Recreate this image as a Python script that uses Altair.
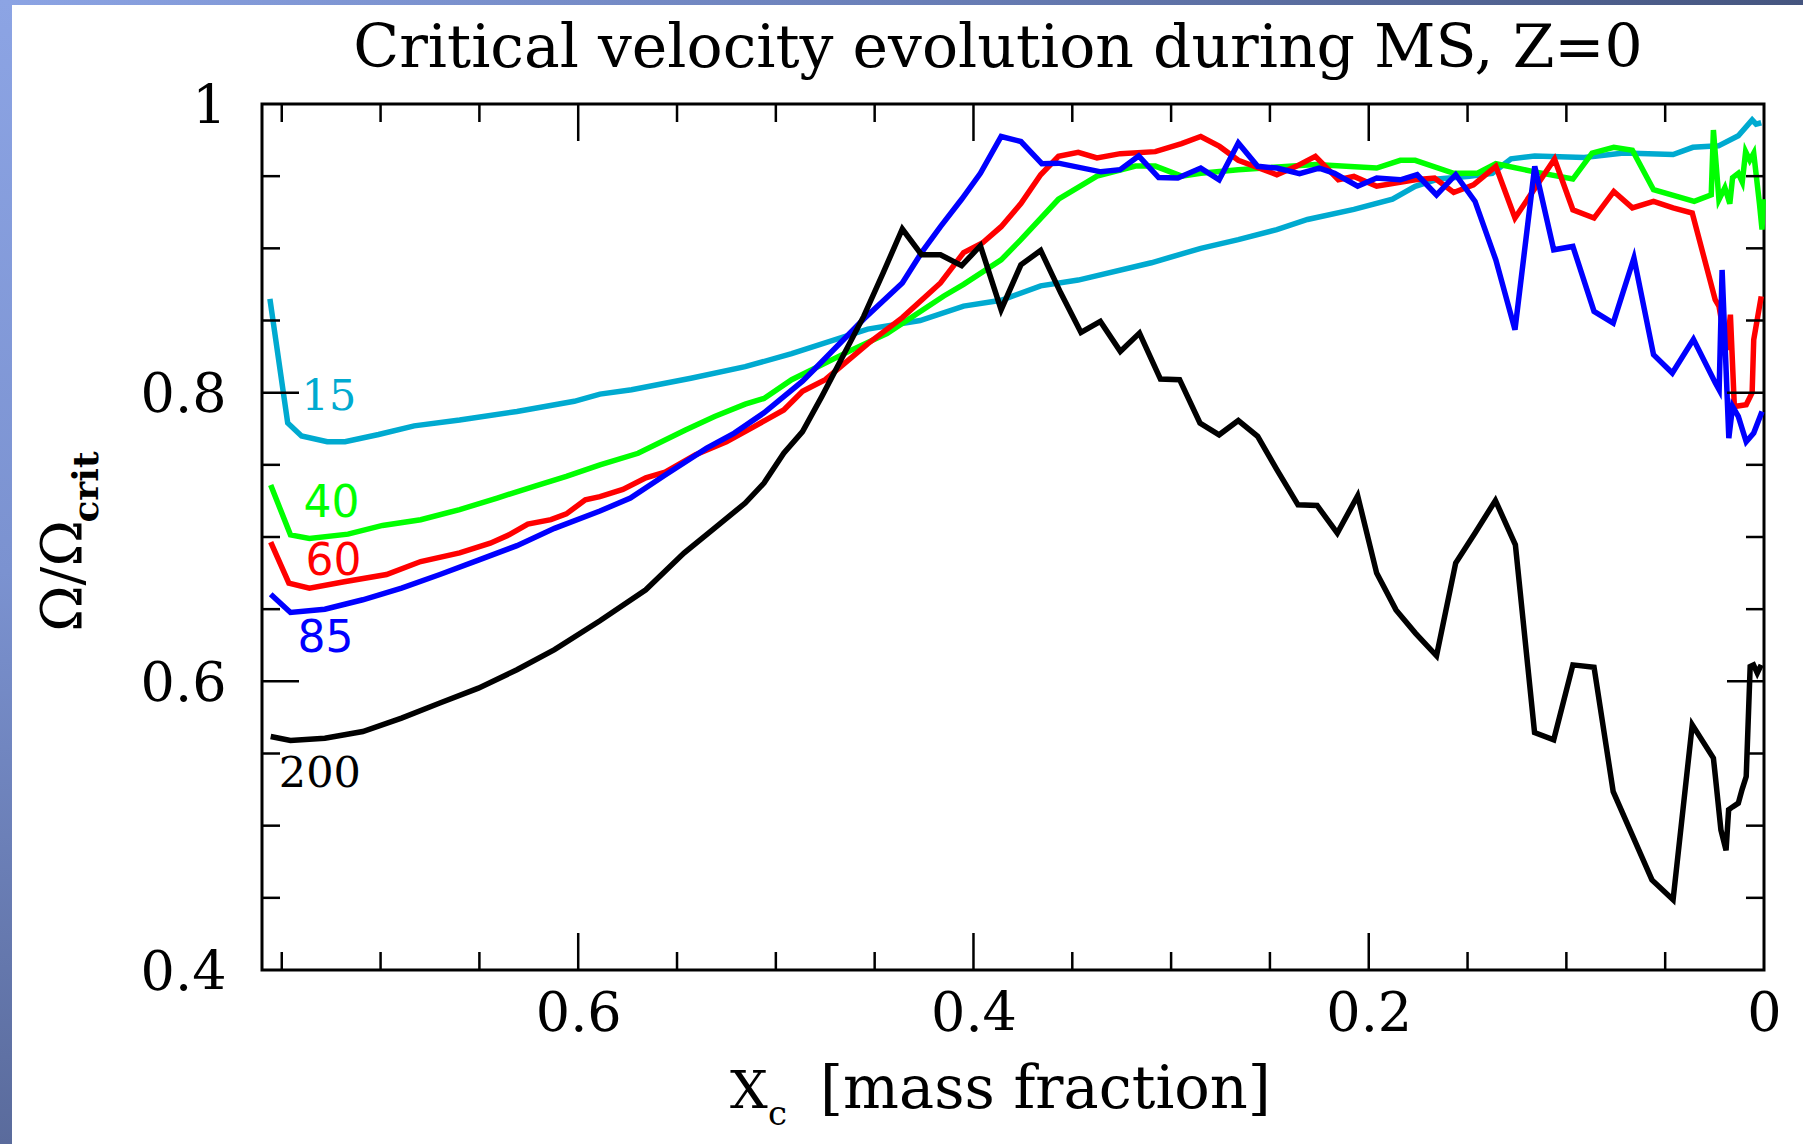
import altair as alt
import pandas as pd

# ---------------- data ----------------
x15 = [0.756, 0.747, 0.740, 0.727, 0.718, 0.701, 0.683, 0.660, 0.631, 0.602, 0.589, 0.573, 0.543, 0.5155,
       0.492, 0.4535, 0.427, 0.405, 0.386, 0.366, 0.347, 0.310, 0.285, 0.266, 0.2465, 0.231, 0.2075, 0.188,
       0.1765, 0.165, 0.149, 0.1375, 0.128, 0.116, 0.091, 0.071, 0.046, 0.036, 0.023, 0.013, 0.006, 0.004, 0.0014]
y15 = [0.865, 0.779, 0.770, 0.766, 0.766, 0.771, 0.777, 0.781, 0.787, 0.794, 0.799, 0.802, 0.810, 0.818,
       0.827, 0.844, 0.850, 0.860, 0.864, 0.874, 0.878, 0.890, 0.900, 0.906, 0.913, 0.920, 0.927, 0.934,
       0.943, 0.948, 0.950, 0.952, 0.962, 0.964, 0.963, 0.966, 0.965, 0.970, 0.971, 0.978, 0.989, 0.986, 0.987]

x40 = [0.7556, 0.7456, 0.736, 0.7165, 0.699, 0.6797, 0.660, 0.641, 0.6215, 0.606, 0.589, 0.5697, 0.546, 0.531,
       0.5155, 0.506, 0.492, 0.461, 0.4438, 0.415, 0.405, 0.386, 0.376, 0.357, 0.3375, 0.318, 0.308, 0.2947,
       0.285, 0.266, 0.227, 0.196, 0.184, 0.1765, 0.157, 0.145, 0.1357, 0.116, 0.0967, 0.087, 0.076, 0.0666,
       0.0559, 0.0353, 0.0267, 0.0256, 0.0228, 0.0198, 0.0173, 0.0159, 0.013, 0.011, 0.0093, 0.0072, 0.0052,
       0.0023, 0.001, 0.0004]
y40 = [0.736, 0.7015, 0.699, 0.702, 0.708, 0.712, 0.719, 0.727, 0.7355, 0.742, 0.750, 0.758, 0.774, 0.7835,
       0.792, 0.796, 0.809, 0.830, 0.841, 0.867, 0.875, 0.892, 0.906, 0.934, 0.950, 0.957, 0.957, 0.950,
       0.952, 0.9545, 0.958, 0.9556, 0.961, 0.961, 0.952, 0.952, 0.9586, 0.953, 0.948, 0.966, 0.970, 0.968,
       0.9406, 0.9325, 0.937, 0.982, 0.9337, 0.942, 0.931, 0.949, 0.952, 0.946, 0.967, 0.961, 0.966,
       0.931, 0.913, 0.934]

x60 = [0.7556, 0.7464, 0.736, 0.7184, 0.697, 0.6797, 0.660, 0.6445, 0.635, 0.6255, 0.6138, 0.606, 0.5964,
       0.589, 0.5774, 0.5658, 0.556, 0.5406, 0.525, 0.5117, 0.496, 0.4865, 0.475, 0.4534, 0.436, 0.4167,
       0.405, 0.3955, 0.386, 0.376, 0.366, 0.357, 0.347, 0.3375, 0.3257, 0.308, 0.2947, 0.285, 0.2755, 0.266,
       0.2465, 0.2367, 0.227, 0.2154, 0.2075, 0.196, 0.1765, 0.1667, 0.157, 0.147, 0.1357, 0.126, 0.106,
       0.0967, 0.086, 0.076, 0.0666, 0.0559, 0.046, 0.0363, 0.0247, 0.0228, 0.0189, 0.017, 0.015, 0.009,
       0.006, 0.0052, 0.0014]
y60 = [0.6965, 0.668, 0.6646, 0.669, 0.674, 0.683, 0.689, 0.6957, 0.7015, 0.709, 0.712, 0.716, 0.7258,
       0.728, 0.733, 0.741, 0.745, 0.757, 0.766, 0.776, 0.788, 0.801, 0.809, 0.834, 0.852, 0.876,
       0.897, 0.9037, 0.915, 0.931, 0.951, 0.9637, 0.9665, 0.9626, 0.9656, 0.967, 0.9725, 0.9775, 0.9706, 0.961,
       0.951, 0.9568, 0.9637, 0.9475, 0.9498, 0.943, 0.9475, 0.9487, 0.9387, 0.944, 0.9568, 0.921, 0.9619,
       0.9267, 0.921, 0.9394, 0.928, 0.9325, 0.928, 0.9245, 0.8644, 0.860, 0.8297, 0.854, 0.7904, 0.7916,
       0.800, 0.8366, 0.8667]

x85 = [0.7556, 0.7456, 0.7282, 0.709, 0.6894, 0.670, 0.6505, 0.631, 0.612, 0.589, 0.5736, 0.556, 0.535, 0.521,
       0.506, 0.4865, 0.4806, 0.4555, 0.436, 0.4263, 0.4167, 0.406, 0.3965, 0.386, 0.376, 0.3654, 0.357,
       0.3355, 0.3258, 0.3164, 0.3063, 0.2966, 0.285, 0.2757, 0.266, 0.2562, 0.2465, 0.235, 0.2251, 0.2173,
       0.2056, 0.196, 0.184, 0.1755, 0.1657, 0.156, 0.1462, 0.1357, 0.126, 0.116, 0.1064, 0.0967, 0.086,
       0.0763, 0.0658, 0.0559, 0.0464, 0.0357, 0.0246, 0.0227, 0.0212, 0.0178, 0.0159, 0.013, 0.009, 0.0052,
       0.001]
y85 = [0.6604, 0.6477, 0.650, 0.6565, 0.6646, 0.674, 0.684, 0.694, 0.706, 0.718, 0.727, 0.743, 0.7616, 0.772,
       0.786, 0.808, 0.816, 0.851, 0.876, 0.897, 0.915, 0.934, 0.952, 0.9775, 0.974, 0.9586, 0.959,
       0.953, 0.9545, 0.964, 0.949, 0.9487, 0.9556, 0.9475, 0.973, 0.9568, 0.9556, 0.9517, 0.9556, 0.952,
       0.943, 0.9487, 0.9475, 0.951, 0.937, 0.951, 0.9325, 0.892, 0.8436, 0.9568, 0.899, 0.9013, 0.8563,
       0.8482, 0.8933, 0.8263, 0.8136, 0.837, 0.8067, 0.802, 0.885, 0.7685, 0.7904, 0.7835, 0.766, 0.772,
       0.787]

x200 = [0.7556, 0.7456, 0.7282, 0.709, 0.6894, 0.670, 0.6505, 0.631, 0.612, 0.589, 0.5658, 0.5465, 0.531,
        0.5155, 0.506, 0.496, 0.4865, 0.4767, 0.4555, 0.4457, 0.436, 0.4263, 0.4167, 0.406, 0.3965, 0.386,
        0.376, 0.366, 0.3558, 0.3456, 0.3358, 0.3257, 0.316, 0.3054, 0.2957, 0.2854, 0.2757, 0.266, 0.2562,
        0.2465, 0.2358, 0.2261, 0.2159, 0.2056, 0.196, 0.1862, 0.1764, 0.1657, 0.156, 0.1462, 0.1359, 0.1258,
        0.1161, 0.1064, 0.0967, 0.086, 0.0763, 0.0567, 0.046, 0.0363, 0.0256, 0.0246, 0.0218, 0.0192, 0.0179,
        0.0159, 0.013, 0.0111, 0.009, 0.007, 0.0053, 0.0034, 0.0014]
y200 = [0.5618, 0.559, 0.5606, 0.5652, 0.5745, 0.585, 0.5953, 0.608, 0.622, 0.642, 0.6634, 0.6889, 0.7062,
        0.7235, 0.7374, 0.7581, 0.773, 0.7974, 0.853, 0.883, 0.9134, 0.8956, 0.8956, 0.888, 0.9018, 0.8575,
        0.8886, 0.8985, 0.869, 0.8417, 0.8494, 0.8286, 0.8413, 0.8094, 0.809, 0.779, 0.7708, 0.7807, 0.7697,
        0.7466, 0.7223, 0.7218, 0.7027, 0.7286, 0.675, 0.6495, 0.6334, 0.6177, 0.682, 0.7027, 0.7253, 0.6946,
        0.5645, 0.5595, 0.6114, 0.6098, 0.5236, 0.4624, 0.4487, 0.5699, 0.5468, 0.534, 0.497, 0.483, 0.511,
        0.513, 0.5156, 0.525, 0.534, 0.6103, 0.6114, 0.6057, 0.6114]

masses = ["15", "40", "60", "85", "200"]
colors = ["#00aad0", "#00ff00", "#ff0000", "#0000ff", "#000000"]

serif_labels = ["15", "200"]
serif_lx = [0.740, 0.7515]
serif_ly = [0.797, 0.536]
sans_labels = ["40", "60", "85"]
sans_lx = [0.739, 0.738, 0.742]
sans_ly = [0.723, 0.683, 0.6295]

x_tick_values = [0, 0.2, 0.4, 0.6]
y_tick_values = [0.4, 0.6, 0.8, 1.0]
x_major = [0.6, 0.4, 0.2]
x_minor = [0.75, 0.7, 0.65, 0.55, 0.5, 0.45, 0.35, 0.3, 0.25, 0.15, 0.1, 0.05]
y_major = [0.6, 0.8]
y_minor = [0.45, 0.5, 0.55, 0.65, 0.7, 0.75, 0.85, 0.9, 0.95]

title_text = "Critical velocity evolution during MS, Z=0"

# ---------------- build ----------------
W, H = 1502, 866
SERIF = "DejaVu Serif"
SANS = "DejaVu Sans"

rows = []
for name, xs, ys in zip(masses, [x15, x40, x60, x85, x200], [y15, y40, y60, y85, y200]):
    for i, (a, b) in enumerate(zip(xs, ys)):
        rows.append({"m": name, "x": a, "y": b, "i": i})
df = pd.DataFrame(rows)

xsc = alt.Scale(domain=[0.76, 0], nice=False, zero=False)
ysc = alt.Scale(domain=[0.4, 1.0], nice=False, zero=False)
csc = alt.Scale(domain=masses, range=colors)

xaxis = alt.Axis(values=x_tick_values, format="~g", labelFont=SERIF, labelFontSize=54,
                 labelColor="black", labelPadding=17, ticks=False, tickSize=0, domain=False,
                 grid=False, labelFlush=False, labelOverlap=False, labelBound=False, title=None)
yaxis = alt.Axis(values=y_tick_values, format="~g", labelFont=SERIF, labelFontSize=54,
                 labelColor="black", labelPadding=36, ticks=False, tickSize=0, domain=False,
                 grid=False, labelFlush=False, labelOverlap=False, labelBound=False,
                 labelOffset=3, title=None)


def X(field):
    return alt.X(field, scale=xsc, axis=xaxis, title=None)


def Y(field):
    return alt.Y(field, scale=ysc, axis=yaxis, title=None)


lines = alt.Chart(df).mark_line(strokeWidth=5.5).encode(
    x=X("x:Q"),
    y=Y("y:Q"),
    color=alt.Color("m:N", scale=csc, legend=None),
    detail="m:N",
    order="i:Q",
)

layers = []

# background strips (slide decoration)
top_grad = alt.LinearGradient(gradient="linear", x1=0, x2=1, y1=0, y2=0,
                              stops=[alt.GradientStop(color="#8ca4e4", offset=0),
                                     alt.GradientStop(color="#6a7fb8", offset=0.5),
                                     alt.GradientStop(color="#45557f", offset=1)])
left_grad = alt.LinearGradient(gradient="linear", x1=0, x2=0, y1=0, y2=1,
                               stops=[alt.GradientStop(color="#8ca4e4", offset=0),
                                      alt.GradientStop(color="#7b92d0", offset=0.5),
                                      alt.GradientStop(color="#5a6b9c", offset=1)])
one = pd.DataFrame({"a": [0]})
layers.append(alt.Chart(one).mark_rect(color=top_grad).encode(
    x=alt.value(-262), x2=alt.value(1541), y=alt.value(-104), y2=alt.value(-99)))
layers.append(alt.Chart(one).mark_rect(color=left_grad).encode(
    x=alt.value(-262), x2=alt.value(-250), y=alt.value(-104), y2=alt.value(1040)))

layers.append(lines)


# inward ticks on all four sides
def xticks(vals, length):
    src = pd.DataFrame({"v": vals})
    base = alt.Chart(src).mark_rule(color="black", strokeWidth=2.5)
    return [
        base.encode(x=X("v:Q"), y=alt.value(H), y2=alt.value(H - length)),
        base.encode(x=X("v:Q"), y=alt.value(0), y2=alt.value(length)),
    ]


def yticks(vals, length):
    src = pd.DataFrame({"v": vals})
    base = alt.Chart(src).mark_rule(color="black", strokeWidth=2.5)
    return [
        base.encode(y=Y("v:Q"), x=alt.value(0), x2=alt.value(length)),
        base.encode(y=Y("v:Q"), x=alt.value(W), x2=alt.value(W - length)),
    ]


layers += xticks(x_major, 37) + xticks(x_minor, 18) + yticks(y_major, 37) + yticks(y_minor, 18)

# curve labels
lab_s = pd.DataFrame({"t": serif_labels, "lx": serif_lx, "ly": serif_ly})
lab_n = pd.DataFrame({"t": sans_labels, "lx": sans_lx, "ly": sans_ly})
layers.append(alt.Chart(lab_s).mark_text(font=SERIF, fontSize=43, align="left", baseline="middle").encode(
    x=X("lx:Q"), y=Y("ly:Q"), text="t:N",
    color=alt.Color("t:N", scale=csc, legend=None)))
layers.append(alt.Chart(lab_n).mark_text(font=SANS, fontSize=44, align="left", baseline="middle").encode(
    x=X("lx:Q"), y=Y("ly:Q"), text="t:N",
    color=alt.Color("t:N", scale=csc, legend=None)))


# titles
def txt(s, x, y, **kw):
    return alt.Chart(pd.DataFrame({"t": [s]})).mark_text(**kw).encode(
        text="t:N", x=alt.value(x), y=alt.value(y))


layers.append(txt(title_text, 736, -37, font=SERIF, fontSize=60, align="center", baseline="alphabetic",
                  color="black"))
layers.append(txt("\u03a9/\u03a9", -181, 472, font=SERIF, fontSize=56, angle=270, align="center",
                  baseline="alphabetic", color="black"))
layers.append(txt("crit", -164, 383, font=SERIF, fontSize=36, fontWeight="bold", angle=270, align="center",
                  baseline="alphabetic", color="black"))
layers.append(txt("X", 468, 1004, font=SERIF, fontSize=53, align="left", baseline="alphabetic", color="black"))
layers.append(txt("c", 506, 1021, font=SERIF, fontSize=34, align="left", baseline="alphabetic", color="black"))
layers.append(txt("[mass fraction]", 558, 1004, font=SERIF, fontSize=59, align="left", baseline="alphabetic",
                  color="black"))

chart = alt.layer(*layers).properties(
    width=W, height=H,
    padding={"left": 262, "top": 104, "right": 39, "bottom": 174},
    autosize=alt.AutoSizeParams(type="none"),
).configure(background="white").configure_view(stroke="black", strokeWidth=3)

chart.save("out.html", embed_options={"renderer": "svg", "actions": False})
